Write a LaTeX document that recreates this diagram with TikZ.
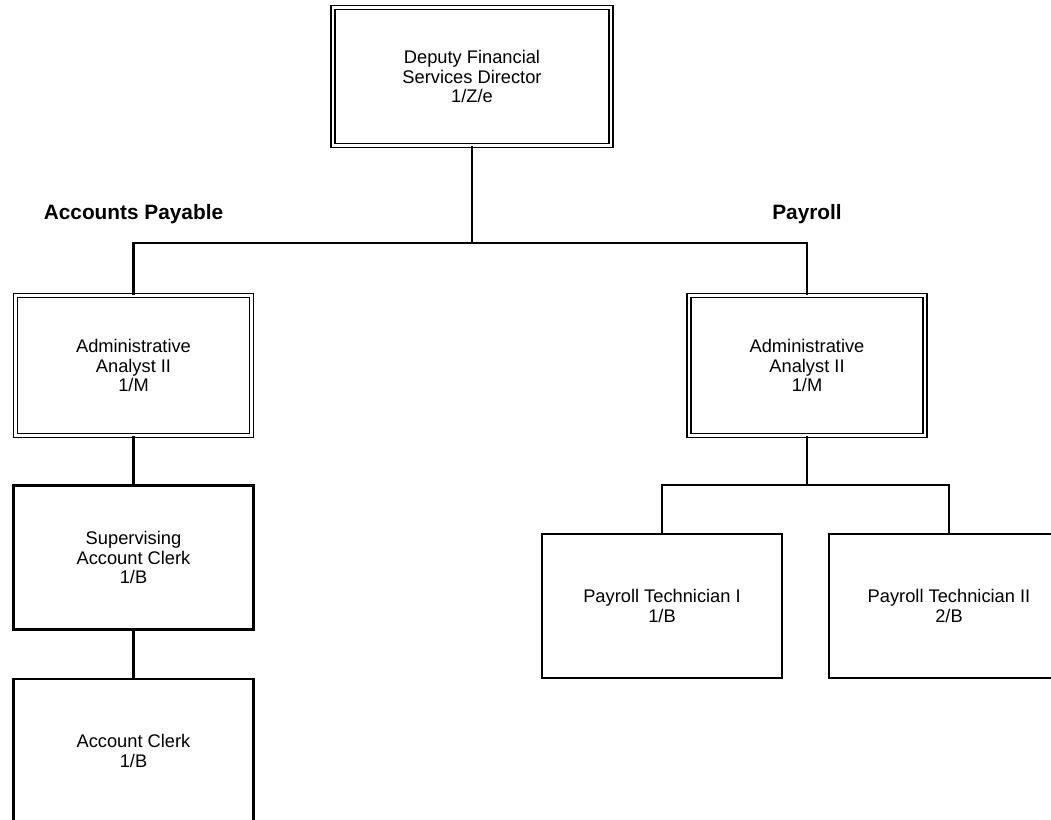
\documentclass[tikz,border=0pt]{standalone}
\usepackage{fontspec}
\setmainfont{Liberation Sans}
\tikzset{
  post/.style={draw, line width=1.5pt, minimum width=6cm, minimum height=3.6cm, inner sep=0pt, align=center, font=\fontsize{13}{13.6}\selectfont},
  lead/.style={post, double, double distance=1.5pt, line width=1.3pt, minimum width=5.9cm, minimum height=3.5cm},
  team/.style={font=\bfseries\fontsize{14.8}{16}\selectfont},
  link/.style={line width=2pt}
}
\begin{document}
\begin{tikzpicture}[x=0.025cm, y=-0.025cm]
        \useasboundingbox (0,0) rectangle (1051,820);
        \clip (0,0) rectangle (1051,820);
        \node[lead, minimum width=6.95cm, minimum height=3.45cm] (dir) at (472,76.5) {Deputy Financial\\Services Director\\1/Z/e};
        \node[team] (apHead) at (133.5,214) {Accounts Payable};
        \node[team] (prHead) at (807,214) {Payroll};
        \node[lead] (apLead) at (133.5,365.5) {Administrative\\Analyst II\\1/M};
        \node[lead] (prLead) at (807,365.5) {Administrative\\Analyst II\\1/M};
        \node[post] (apSup) at (133.5,557.5) {Supervising\\Account Clerk\\1/B};
        \node[post] (apClerk) at (133.5,751) {Account Clerk\\1/B};
        \node[post] (prTech1) at (662,606) {Payroll Technician I\\1/B};
        \node[post] (prTech2) at (949,606) {Payroll Technician II\\2/B};
        \coordinate (topBus) at (472,243);
        \coordinate (prBus) at (807,485);
        \draw[link] (dir.south) -- (topBus);
        \draw[link] (topBus) -| (apLead.north);
        \draw[link] (topBus) -| (prLead.north);
        \draw[link] (apLead) -- (apSup);
        \draw[link] (apSup) -- (apClerk);
        \draw[link] (prLead.south) -- (prBus);
        \draw[link] (prBus) -| (prTech1.north);
        \draw[link] (prBus) -| (prTech2.north);
\end{tikzpicture}
\end{document}
